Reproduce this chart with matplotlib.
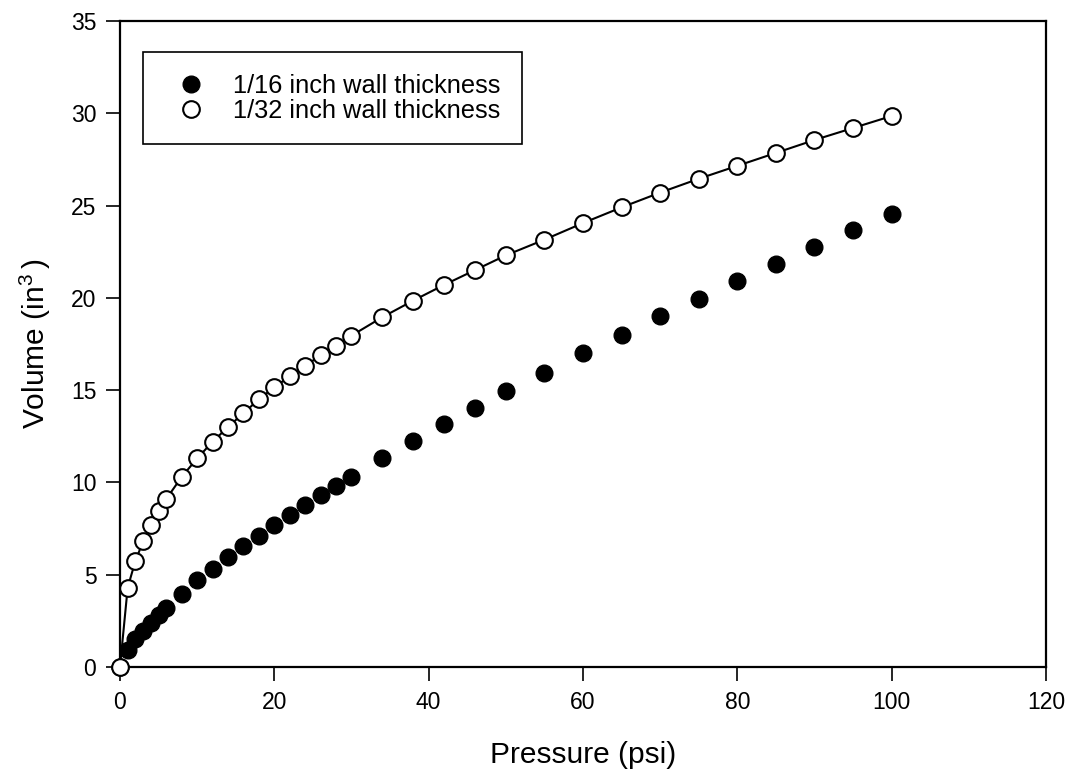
import numpy as np
import matplotlib
matplotlib.use("Agg")
import matplotlib.pyplot as plt

plt.rcParams['font.family'] = ['Liberation Sans', 'DejaVu Sans']
plt.rcParams['mathtext.fontset'] = 'custom'
plt.rcParams['mathtext.rm'] = 'Liberation Sans'

# pressure (psi)
pressure = [0, 1, 2, 3, 4, 5, 6, 8, 10, 12, 14, 16, 18, 20, 22, 24, 26, 28, 30,
            34, 38, 42, 46, 50, 55, 60, 65, 70, 75, 80, 85, 90, 95, 100]

# volume (in^3), 1/16 inch wall
vol_16 = [0, 0.9, 1.5, 1.95, 2.4, 2.8, 3.2, 3.95, 4.7, 5.3, 5.95, 6.55, 7.1, 7.7,
          8.25, 8.8, 9.3, 9.8, 10.3, 11.3, 12.25, 13.15, 14.05, 14.95, 15.95,
          17.0, 18.0, 19.0, 19.95, 20.9, 21.85, 22.75, 23.7, 24.55]

# volume (in^3), 1/32 inch wall
vol_32 = [0, 4.3, 5.75, 6.8, 7.7, 8.45, 9.1, 10.3, 11.3, 12.2, 13.0, 13.75, 14.5,
          15.15, 15.75, 16.3, 16.9, 17.4, 17.95, 18.95, 19.85, 20.7, 21.5, 22.3,
          23.15, 24.05, 24.9, 25.7, 26.45, 27.15, 27.85, 28.55, 29.2, 29.85]

fig = plt.figure(figsize=(10.75, 7.76), dpi=100)
ax = fig.add_axes([0.1116, 0.1405, 0.973 - 0.1116, 0.973 - 0.1405])

ax.plot(pressure, vol_32, '-', color='black', lw=1.5, zorder=2)
ax.plot(pressure, vol_16, 'o', color='black', ms=12, ls='none',
        label='1/16 inch wall thickness', zorder=3, clip_on=False)
ax.plot(pressure, vol_32, 'o', mfc='white', mec='black', mew=1.5, ms=12,
        ls='none', label='1/32 inch wall thickness', zorder=4, clip_on=False)

ax.set_xlim(0, 120)
ax.set_ylim(0, 35)
ax.set_xticks(np.arange(0, 121, 20))
ax.set_yticks(np.arange(0, 36, 5))
ax.tick_params(direction='out', length=10, width=1.2, labelsize=16.5, pad=7)
for s in ax.spines.values():
    s.set_linewidth(1.6)

ax.set_xlabel('Pressure (psi)', fontsize=21.5, labelpad=20)
ax.set_ylabel('Volume (in$^\\mathrm{3}\\,$)', fontsize=21.5, labelpad=13)

leg = ax.legend(loc='upper left', bbox_to_anchor=(0.0248, 0.952), fontsize=18.3,
                frameon=True, fancybox=False, edgecolor='black',
                handlelength=2.1, handletextpad=0.6, borderpad=0.85,
                labelspacing=0.05, borderaxespad=0, framealpha=1)
leg.get_frame().set_linewidth(1.2)

fig.savefig('out.png', dpi=100)
